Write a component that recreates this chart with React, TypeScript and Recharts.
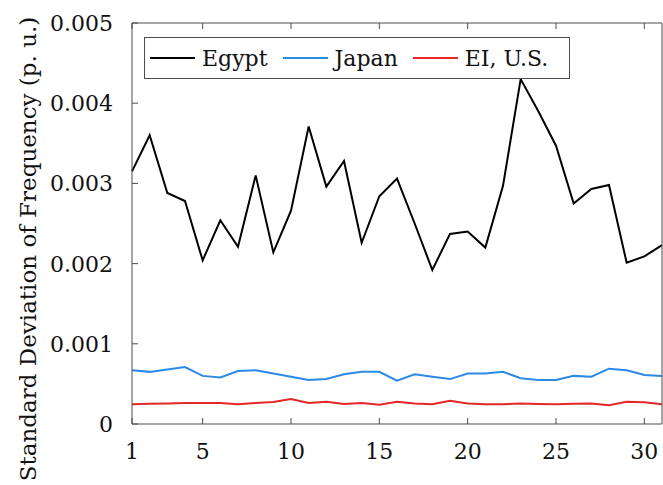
import { Legend, Line, LineChart, XAxis, YAxis } from "recharts";

// Daily standard deviation of grid frequency, days 1..31 (p.u.)
const days = [
  1, 2, 3, 4, 5, 6, 7, 8, 9, 10, 11, 12, 13, 14, 15, 16, 17, 18, 19, 20, 21,
  22, 23, 24, 25, 26, 27, 28, 29, 30, 31,
];
const egypt = [
  0.00315, 0.0036, 0.00288, 0.00278, 0.00204, 0.00254, 0.00221, 0.0031,
  0.00214, 0.00266, 0.00371, 0.00296, 0.00328, 0.00226, 0.00284, 0.00306,
  0.0025, 0.00192, 0.00237, 0.0024, 0.0022, 0.00297, 0.0043, 0.0039, 0.00347,
  0.00275, 0.00293, 0.00298, 0.00201, 0.00209, 0.00223,
];
const japan = [
  0.00067, 0.00065, 0.00068, 0.00071, 0.0006, 0.00058, 0.00066, 0.00067,
  0.00063, 0.00059, 0.00055, 0.00056, 0.00062, 0.00065, 0.00065, 0.00054,
  0.00062, 0.00059, 0.00056, 0.00063, 0.00063, 0.00065, 0.00057, 0.00055,
  0.00055, 0.0006, 0.00059, 0.00069, 0.00067, 0.00061, 0.0006,
];
const eiUS = [
  0.000245, 0.000253, 0.000257, 0.000262, 0.000262, 0.000262, 0.000245,
  0.000262, 0.000274, 0.000312, 0.000262, 0.000278, 0.00025, 0.000262,
  0.000241, 0.000278, 0.000257, 0.000245, 0.00029, 0.000257, 0.000245,
  0.000245, 0.000257, 0.00025, 0.000245, 0.000253, 0.000257, 0.000233,
  0.000278, 0.00027, 0.000245,
];
const seriesNames = ["Egypt", "Japan", "EI, U.S."];
const xTicks = [1, 5, 10, 15, 20, 25, 30];
const yTicks = [0, 0.001, 0.002, 0.003, 0.004, 0.005];

const data = days.map((day, i) => ({
  day,
  egypt: egypt[i],
  japan: japan[i],
  us: eiUS[i],
}));

// DejaVu Serif is the serif face that is reliably there; it runs wide, so sizes are a bit smaller
const FONT = "DejaVu Serif, serif";
const AXIS = "#4d4d4d";
const TEXT = "#111";
const TICK = 6;
const LABEL_SIZE = 22;

// tickSize/tickMargin are 0, so x/y arrive sitting on the axis line itself
function BottomTick({ x, y, payload }: any) {
  return (
    <g>
      <line x1={x} y1={y} x2={x} y2={y - TICK} stroke={AXIS} />
      <text x={x} y={y + 35} textAnchor="middle" fontFamily={FONT} fontSize={LABEL_SIZE} fill={TEXT}>
        {payload.value}
      </text>
    </g>
  );
}

function TopTick({ x, y }: any) {
  return <line x1={x} y1={y} x2={x} y2={y + TICK} stroke={AXIS} />;
}

function LeftTick({ x, y, payload }: any) {
  return (
    <g>
      <line x1={x} y1={y} x2={x + TICK} y2={y} stroke={AXIS} />
      <text x={x - 19} y={y} dy="0.36em" textAnchor="end" fontFamily={FONT} fontSize={LABEL_SIZE} fill={TEXT}>
        {String(payload.value)}
      </text>
    </g>
  );
}

function RightTick({ x, y }: any) {
  return <line x1={x} y1={y} x2={x - TICK} y2={y} stroke={AXIS} />;
}

function YTitle() {
  return (
    <text
      transform="translate(36, 249) rotate(-90)"
      textAnchor="middle"
      fontFamily={FONT}
      fontSize={23}
      fill={TEXT}
    >
      Standard Deviation of Frequency (p. u.)
    </text>
  );
}

function LegendBox({ payload }: any) {
  const items = [...(payload || [])].sort(
    (a: any, b: any) => seriesNames.indexOf(a.value) - seriesNames.indexOf(b.value)
  );
  return (
    <div
      style={{
        boxSizing: "border-box",
        width: 426,
        height: 42,
        border: `1px solid ${AXIS}`,
        background: "#fff",
        display: "flex",
        alignItems: "center",
        paddingLeft: 5,
        fontFamily: FONT,
        fontSize: LABEL_SIZE,
        color: TEXT,
        whiteSpace: "nowrap",
      }}
    >
      {items.map((entry: any) => (
        <span key={entry.value} style={{ display: "flex", alignItems: "center", marginRight: 15 }}>
          <span style={{ width: 45, height: 2, background: entry.color, marginRight: 7 }} />
          {entry.value}
        </span>
      ))}
    </div>
  );
}

export default function App() {
  return (
    <div style={{ position: "absolute", left: 0, top: 0, background: "#fff" }}>
      <LineChart width={663} height={485} data={data} margin={{ top: 22, right: 0, bottom: 0, left: 0 }}>
        <XAxis
          dataKey="day"
          type="number"
          domain={[1, 31]}
          ticks={xTicks}
          height={61}
          stroke={AXIS}
          tickLine={false}
          tickSize={0}
          tickMargin={0}
          tick={<BottomTick />}
          interval={0}
        />
        <XAxis
          xAxisId="top"
          orientation="top"
          dataKey="day"
          type="number"
          domain={[1, 31]}
          ticks={xTicks}
          height={1}
          stroke={AXIS}
          tickLine={false}
          tickSize={0}
          tickMargin={0}
          tick={<TopTick />}
          interval={0}
        />
        <YAxis
          type="number"
          domain={[0, 0.005]}
          ticks={yTicks}
          width={132}
          stroke={AXIS}
          tickLine={false}
          tickSize={0}
          tickMargin={0}
          tick={<LeftTick />}
          interval={0}
          label={<YTitle />}
        />
        <YAxis
          yAxisId="right"
          orientation="right"
          type="number"
          domain={[0, 0.005]}
          ticks={yTicks}
          width={1}
          stroke={AXIS}
          tickLine={false}
          tickSize={0}
          tickMargin={0}
          tick={<RightTick />}
          interval={0}
        />
        <Legend
          layout="horizontal"
          verticalAlign="middle"
          align="center"
          wrapperStyle={{ top: 37, left: 144, width: 426, height: 42 }}
          content={<LegendBox />}
        />
        <Line type="linear" dataKey="egypt" name="Egypt" stroke="#000" strokeWidth={2} dot={false} isAnimationActive={false} />
        <Line type="linear" dataKey="japan" name="Japan" stroke="#2b8ae8" strokeWidth={2} dot={false} isAnimationActive={false} />
        <Line type="linear" dataKey="us" name="EI, U.S." stroke="#e52727" strokeWidth={2} dot={false} isAnimationActive={false} />
      </LineChart>
    </div>
  );
}
